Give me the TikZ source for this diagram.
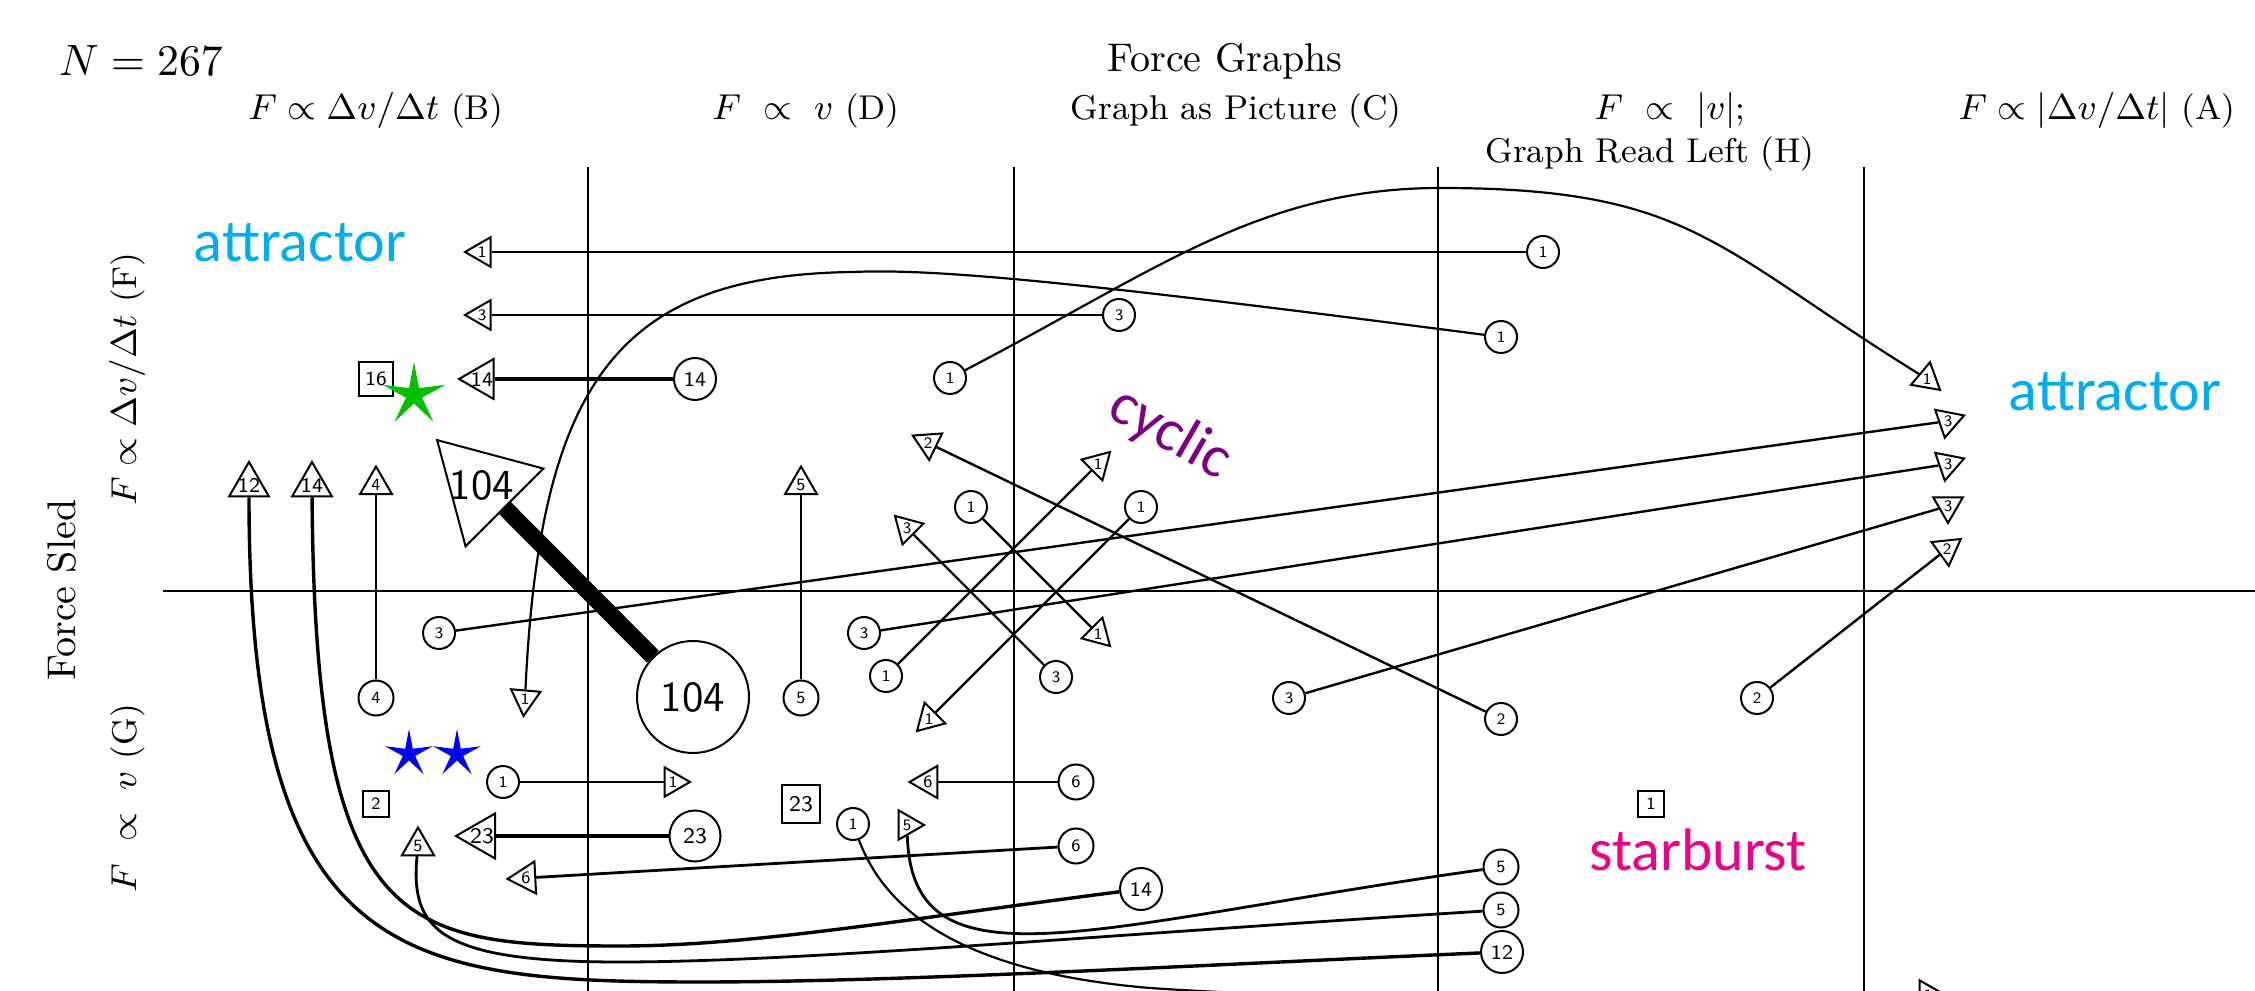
\documentclass[tikz,border=0pt]{standalone}
\usepackage{fontspec}
\newfontfamily\labfont{Carlito}
\usetikzlibrary{shapes.geometric}
\definecolor{attrc}{RGB}{0,174,239}
\definecolor{cycc}{RGB}{125,0,130}
\definecolor{burstc}{RGB}{236,0,140}
\definecolor{grnc}{RGB}{0,192,0}
\definecolor{bluc}{RGB}{0,0,245}
\begin{document}
\begin{tikzpicture}[x=0.25pt, y=-0.25pt,
  cn/.style={circle, draw, line width=0.5pt, fill=white, inner sep=0pt},
  ca/.style={cn, minimum size=8pt, font=\sffamily\fontsize{4}{4}\selectfont},
  cb/.style={cn, minimum size=8.75pt, font=\sffamily\fontsize{4.3}{4.3}\selectfont},
  cc/.style={cn, minimum size=10.5pt, font=\sffamily\fontsize{5.2}{5.2}\selectfont},
  cd/.style={cn, minimum size=12.75pt, font=\sffamily\fontsize{5.6}{5.6}\selectfont},
  ce/.style={cn, minimum size=28pt, font=\sffamily\fontsize{10.7}{10.7}\selectfont},
  tn/.style={regular polygon, regular polygon sides=3, draw, line width=0.5pt, fill=white, inner sep=0pt, shape border rotate=#1},
  ta/.style 2 args={tn=#1, minimum size=8.5pt, label={[font=\sffamily\fontsize{4}{4}\selectfont, inner sep=0pt]center:#2}},
  tb/.style 2 args={tn=#1, minimum size=9.25pt, label={[font=\sffamily\fontsize{4.3}{4.3}\selectfont, inner sep=0pt]center:#2}},
  tc/.style 2 args={tn=#1, minimum size=11.5pt, label={[font=\sffamily\fontsize{5.2}{5.2}\selectfont, inner sep=0pt]center:#2}},
  td/.style 2 args={tn=#1, minimum size=13pt, label={[font=\sffamily\fontsize{5.6}{5.6}\selectfont, inner sep=0pt]center:#2}},
  te/.style 2 args={tn=#1, minimum size=31.75pt, label={[font=\sffamily\fontsize{10.7}{10.7}\selectfont, inner sep=0pt]center:#2}},
  sqn/.style={rectangle, draw, line width=0.5pt, fill=white, inner sep=0pt},
  sqa/.style={sqn, minimum size=6.4pt, font=\sffamily\fontsize{4.3}{4.3}\selectfont},
  sqb/.style={sqn, minimum size=8.5pt, font=\sffamily\fontsize{5}{5}\selectfont},
  sqc/.style={sqn, minimum size=9.5pt, font=\sffamily\fontsize{5.6}{5.6}\selectfont},
  ew1/.style={line width=0.55pt},
  ew2/.style={line width=0.6pt},
  ew4/.style={line width=0.7pt},
  ew12/.style={line width=0.85pt},
  ew14/.style={line width=1.1pt},
  ew23/.style={line width=1.2pt},
  ew104/.style={line width=4.2pt},
  gridl/.style={line width=0.45pt},
  txt/.style={inner sep=0pt, anchor=base},
  hdr/.style={txt, font=\fontsize{8.6}{10}\selectfont},
  clab/.style={txt, font=\labfont\fontsize{15}{15}\selectfont}
]
\useasboundingbox (0,0) rectangle (2255,991);
\clip (0,0) rectangle (2255,991);

% grid
\coordinate (g1t) at (588,167);  \coordinate (g1b) at (588,995);
\coordinate (g2t) at (1014,167); \coordinate (g2b) at (1014,995);
\coordinate (g3t) at (1438,167); \coordinate (g3b) at (1438,995);
\coordinate (g4t) at (1864,167); \coordinate (g4b) at (1864,995);
\coordinate (hl) at (163,591);   \coordinate (hr) at (2260,591);
\draw[gridl] (g1t) -- (g1b);
\draw[gridl] (g2t) -- (g2b);
\draw[gridl] (g3t) -- (g3b);
\draw[gridl] (g4t) -- (g4b);
\draw[gridl] (hl) -- (hr);

% titles
\node[txt, anchor=base west, font=\fontsize{10.8}{12}\selectfont] (nn) at (58,76) {$N=267$};
\node[txt, font=\fontsize{10}{12}\selectfont] (title) at (1225,72) {Force Graphs};
\node[hdr] (hB) at (376,120) {$F\propto\Delta v/\Delta t$ (B)};
\node[hdr] (hD) at (806,120) {$F\ \propto\ v$ (D)};
\node[hdr] (hC) at (1236,120) {Graph as Picture (C)};
\node[hdr] (hH) at (1670,120) {$F\ \propto\ |v|$;};
\node[hdr] (hH2) at (1650,163) {Graph Read Left (H)};
\node[hdr] (hA) at (2097,120) {$F\propto|\Delta v/\Delta t|$ (A)};
\node[hdr, rotate=90] (rF) at (136,379) {$F\propto\Delta v/\Delta t$ (F)};
\node[hdr, rotate=90] (rG) at (136,798) {$F\ \propto\ v$ (G)};
\node[txt, rotate=90, font=\fontsize{10}{12}\selectfont] (rS) at (75,590) {Force Sled};

% coloured labels
\node[clab, text=attrc] (at1) at (300,262) {attractor};
\node[clab, text=attrc] (at2) at (2115,411) {attractor};
\node[clab, text=burstc] (sb) at (1698,870) {starburst};
\node[clab, text=cycc, rotate=-30, anchor=center] (cyc) at (1170,434) {cyclic};

% squares and stars
\node[sqb] (sq16) at (376,379) {16};
\node[sqa] (sq2) at (376,804) {2};
\node[sqc] (sq23) at (801,804) {23};
\node[sqa] (sq1) at (1651,804) {1};
\fill[grnc, shift={(414,395)}] (270:33) -- (306:8.5) -- (342:33) -- (18:8.5) -- (54:33) -- (90:8.5) -- (126:33) -- (162:8.5) -- (198:33) -- (234:8.5) -- cycle;
\fill[bluc, shift={(409,754)}] (270:25) -- (306:6.5) -- (342:25) -- (18:6.5) -- (54:25) -- (90:6.5) -- (126:25) -- (162:6.5) -- (198:25) -- (234:6.5) -- cycle;
\fill[bluc, shift={(457,754)}] (270:25) -- (306:6.5) -- (342:25) -- (18:6.5) -- (54:25) -- (90:6.5) -- (126:25) -- (162:6.5) -- (198:25) -- (234:6.5) -- cycle;

% circles
\node[ca] (cA1) at (1543,252) {1};
\node[ca] (cA3) at (1119,315) {3};
\node[cc] (cA14) at (695,379) {14};
\node[ca] (cB1) at (950,378) {1};
\node[ca] (cC1) at (1501,337) {1};
\node[ca] (cD2) at (1501,719) {2};
\node[ca] (cE2) at (1757,698) {2};
\node[cb] (cF4) at (376,698) {4};
\node[cb] (cG5) at (801,698) {5};
\node[ce] (cH104) at (693,697) {104};
\node[ca] (cI3) at (439,633) {3};
\node[ca] (cJ3) at (864,633) {3};
\node[ca] (cK3) at (1289,698) {3};
\node[ca] (cy1) at (971,507) {1};
\node[ca] (cy2) at (1141,507) {1};
\node[ca] (cy3) at (886,676) {1};
\node[ca] (cy4) at (1056,677) {3};
\node[cb] (cL6) at (1076,782) {6};
\node[cb] (cM6) at (1076,846) {6};
\node[ca] (cN1) at (503,782) {1};
\node[cd] (cO23) at (695,836) {23};
\node[ca] (cP1) at (853,824) {1};
\node[cc] (cQ14) at (1141,889) {14};
\node[cb] (cR5) at (1501,867) {5};
\node[cb] (cS5) at (1501,910) {5};
\node[cc] (cT12) at (1502,952) {12};

% triangles (shape border rotate = tip direction - 90)
\node[ta={90}{1}] (tA1) at (482,252) {};
\node[ta={90}{3}] (tA3) at (482,315) {};
\node[tc={90}{14}] (tA14) at (482,379) {};
\node[ta={-130}{1}] (tB1) at (1927,379) {};
\node[ta={175}{1}] (tC1) at (525,699) {};
\node[ta={64}{2}] (tD2) at (928,443) {};
\node[ta={-54}{2}] (tE2) at (1947,549) {};
\node[tb={0}{4}] (tF4) at (376,485) {};
\node[tb={0}{5}] (tG5) at (801,485) {};
\node[te={45}{104}] (tH104) at (482,485) {};
\node[ta={-71}{3}] (tI3) at (1948,421) {};
\node[ta={-71}{3}] (tJ3) at (1948,464) {};
\node[ta={-60}{3}] (tK3) at (1948,506) {};
\node[ta={-135}{1}] (ty1) at (1098,634) {};
\node[ta={135}{1}] (ty2) at (929,719) {};
\node[ta={-45}{1}] (ty3) at (1098,464) {};
\node[ta={45}{3}] (ty4) at (907,528) {};
\node[tb={90}{6}] (tL6) at (928,782) {};
\node[tb={93}{6}] (tM6) at (526,878) {};
\node[ta={-90}{1}] (tN1) at (673,782) {};
\node[td={90}{23}] (tO23) at (482,836) {};
\node[ta={-90}{1}] (tP1) at (1928,995) {};
\node[tc={0}{14}] (tQ14) at (312,485) {};
\node[ta={-90}{5}] (tR5) at (907,825) {};
\node[tb={0}{5}] (tS5) at (418,846) {};
\node[tc={0}{12}] (tT12) at (249,485) {};

% connectors
\draw[ew1] (cA1) -- (tA1);
\draw[ew2] (cA3) -- (tA3);
\draw[ew14] (cA14) -- (tA14);
\draw[ew1] (cB1) .. controls (1154,272) and (1260,188) .. (1440,188) .. controls (1690,188) and (1714,247) .. (tB1);
\draw[ew1] (cC1) .. controls (1100,285) and (940,268) .. (853,272) .. controls (620,275) and (540,380) .. (tC1);
\draw[ew2] (cD2) -- (tD2);
\draw[ew2] (cE2) -- (tE2);
\draw[ew4] (cF4) -- (tF4);
\draw[ew4] (cG5) -- (tG5);
\draw[ew104] (cH104) -- (tH104);
\draw[ew2] (cI3) -- (tI3);
\draw[ew2] (cJ3) -- (tJ3);
\draw[ew2] (cK3) -- (tK3);
\draw[ew1] (cy1) -- (ty1);
\draw[ew1] (cy2) -- (ty2);
\draw[ew1] (cy3) -- (ty3);
\draw[ew2] (cy4) -- (ty4);
\draw[ew4] (cL6) -- (tL6);
\draw[ew4] (cM6) -- (tM6);
\draw[ew1] (cN1) -- (tN1);
\draw[ew23] (cO23) -- (tO23);
\draw[ew1] (cP1) .. controls (885,910) and (960,972) .. (1150,988) .. controls (1400,1005) and (1700,995) .. (tP1);
\draw[ew12] (cQ14) .. controls (900,920) and (750,946) .. (620,946) .. controls (400,946) and (315,930) .. (tQ14);
\draw[ew4] (cR5) .. controls (1090,925) and (912,995) .. (tR5);
\draw[ew4] (cS5) .. controls (1100,935) and (800,962) .. (620,962) .. controls (440,962) and (410,930) .. (tS5);
\draw[ew12] (cT12) .. controls (1200,965) and (900,982) .. (700,982) .. controls (400,982) and (249,960) .. (tT12);
\end{tikzpicture}
\end{document}
